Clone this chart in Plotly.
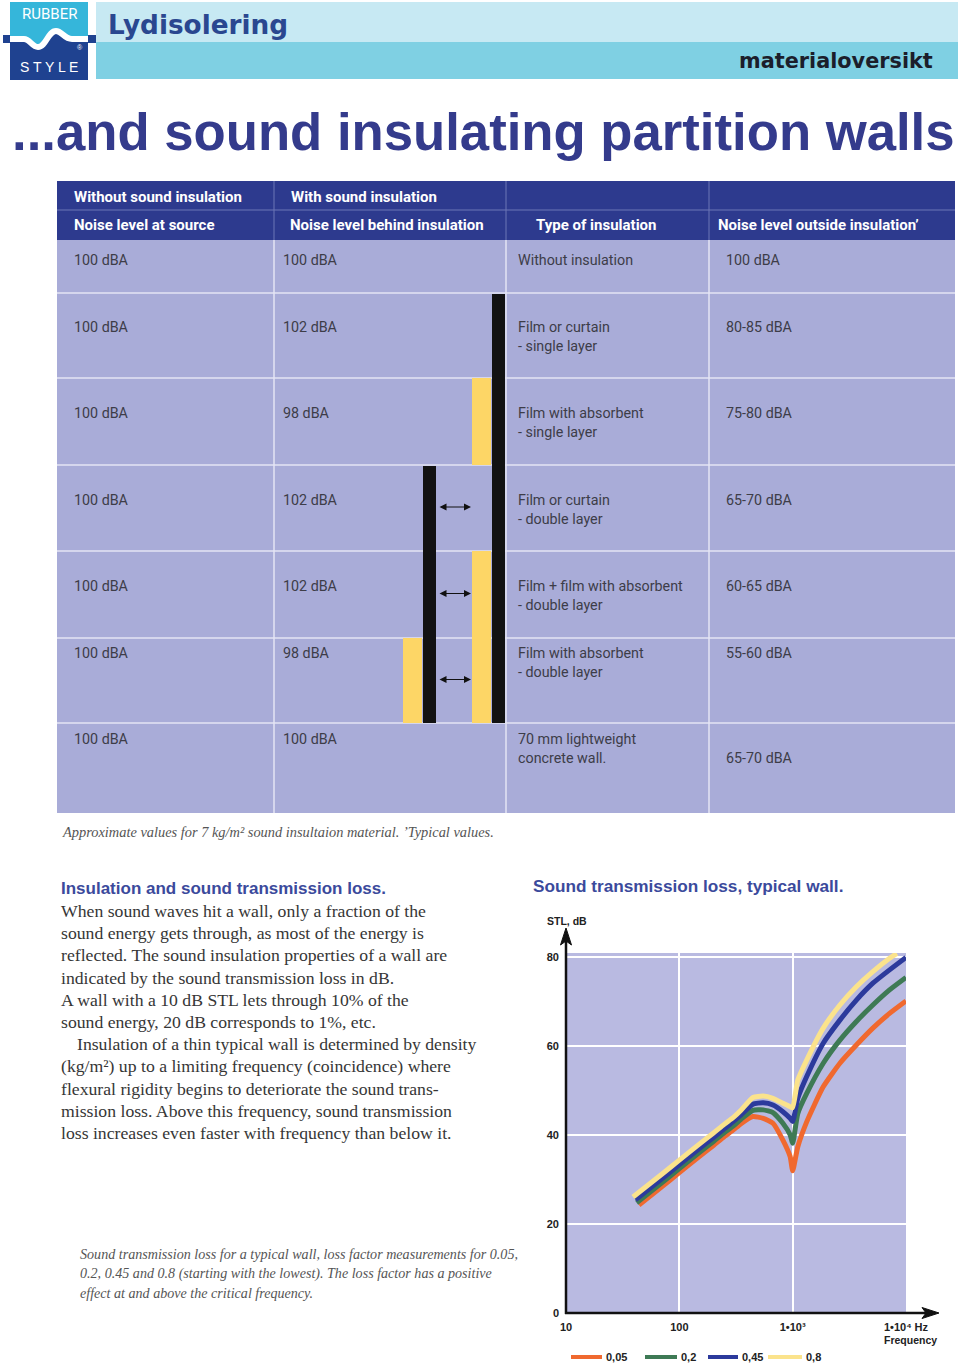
import plotly.graph_objects as go

W, H = 960, 1372

# ---------------- data ----------------
head_row_1 = ["Without sound insulation", "With sound insulation", "", ""]
head_row_2 = ["Noise level at source", "Noise level behind insulation",
              "Type of insulation", "Noise level outside insulation’"]
noise_source = ["100 dBA", "100 dBA", "100 dBA", "100 dBA", "100 dBA", "100 dBA", "100 dBA"]
noise_behind = ["100 dBA", "102 dBA", "98 dBA", "102 dBA", "102 dBA", "98 dBA", "100 dBA"]
insulation_type = ["Without insulation",
                   "Film or curtain<br>- single layer",
                   "Film with absorbent<br>- single layer",
                   "Film or curtain<br>- double layer",
                   "Film + film with absorbent<br>- double layer",
                   "Film with absorbent<br>- double layer",
                   "70 mm lightweight<br>concrete wall."]
noise_outside = ["100 dBA", "80-85 dBA", "75-80 dBA", "65-70 dBA", "60-65 dBA", "55-60 dBA", "65-70 dBA"]

# insulation layers sketched inside the table (row indices are 0-based body rows)
layer_kind = ["film", "absorbent", "absorbent", "film", "absorbent"]
layer_slot = ["outer", "outer", "outer", "inner", "inner"]
layer_first_row = [1, 2, 4, 3, 5]
layer_last_row = [5, 2, 5, 5, 5]
air_gap_rows = [3, 4, 5]

# Sound transmission loss curves (Hz, dB)
loss_factors = ["0,05", "0,2", "0,45", "0,8"]
freq_005 = [44, 70, 100, 150, 200, 250, 300, 350, 446, 550, 670, 820, 950, 1000,
            1110, 1330, 1860, 2610, 3650, 5100, 7160, 10000]
stl_005 = [24.3, 28.4, 31.6, 35.2, 37.7, 39.7, 41.2, 42.6, 44.2, 43.8, 42.7, 38.9, 35.2, 32.0,
           37.4, 43.0, 50.9, 56.2, 60.3, 64.1, 67.4, 70.2]
freq_02 = [42, 70, 100, 150, 200, 250, 300, 350, 446, 550, 670, 820, 950, 1000,
           1110, 1330, 1860, 2610, 3650, 5100, 7160, 10000]
stl_02 = [24.8, 29.3, 32.5, 36.1, 38.6, 40.6, 42.1, 43.6, 45.6, 45.7, 45.1, 42.7, 40.1, 38.2,
          44.9, 49.4, 56.2, 61.4, 65.6, 69.3, 72.7, 75.5]
freq_045 = [41, 70, 100, 150, 200, 250, 300, 350, 446, 550, 670, 820, 950, 1000,
            1110, 1330, 1860, 2610, 3650, 5100, 7160, 10000]
stl_045 = [25.5, 30.2, 33.4, 37.0, 39.5, 41.5, 43.1, 44.6, 47.0, 47.3, 46.8, 45.3, 43.8, 43.1,
           48.3, 53.2, 60.7, 65.9, 70.4, 74.2, 77.2, 80.0]
freq_08 = [39, 70, 100, 150, 200, 250, 300, 350, 446, 550, 670, 820, 950, 1000,
           1110, 1330, 1860, 2610, 3650, 5100, 7160, 8300]
stl_08 = [26.1, 31.2, 34.4, 38.0, 40.5, 42.5, 44.0, 45.6, 48.5, 48.8, 48.3, 47.2, 46.4, 46.2,
          52.4, 56.9, 64.1, 69.3, 73.4, 76.8, 79.8, 80.9]

x_tick_vals = [10, 100, 1000, 10000]
x_tick_text = ["10", "100", "1•10³", "1•10⁴ Hz"]
y_tick_vals = [0, 20, 40, 60, 80]

body_lines = [
    "When sound waves hit a wall, only a fraction of the",
    "sound energy gets through, as most of the energy is",
    "reflected. The sound insulation properties of a wall are",
    "indicated by the sound transmission loss in dB.",
    "A wall with a 10 dB STL lets through 10% of the",
    "sound energy, 20 dB corresponds to 1%, etc.",
    "Insulation of a thin typical wall is determined by density",
    "(kg/m²) up to a limiting frequency (coincidence) where",
    "flexural rigidity begins to deteriorate the sound trans-",
    "mission loss. Above this frequency, sound transmission",
    "loss increases even faster with frequency than below it.",
]
chart_caption_lines = [
    "Sound transmission loss for a typical wall, loss factor measurements for 0.05,",
    "0.2, 0.45 and 0.8 (starting with the lowest). The loss factor has a positive",
    "effect at and above the critical frequency.",
]

# ---------------- styles / layout constants ----------------
NAVY = "#2d3a8e"
LAV_TABLE = "#a9acd8"
LAV_CHART = "#b9bae1"
TITLE_BLUE = "#343b8c"
HEAD_BLUE = "#3b4a9c"
TXT = "#3d3d48"
SERIF = "Liberation Serif, Times New Roman, serif"
SANS = "Liberation Sans, Arial, sans-serif"
TFONT = "Roboto, Liberation Sans, sans-serif"
curve_colors = ["#f0692f", "#3e7a55", "#2c3a9c", "#fbe38c"]

col_edges = [57, 274, 506, 709, 955]
head_edges = [181, 210, 240]
row_edges = [240, 293, 378, 465, 551, 638, 723, 813]
head1_x = [74, 291]
head2_x = [74, 290, 536, 718]
body_x = [74, 283, 518, 726]
row_text_y = [260, 327, 413, 500, 586, 653, 739]
slot_x = {("film", "outer"): (492, 505), ("absorbent", "outer"): (472, 491),
          ("film", "inner"): (423, 436), ("absorbent", "inner"): (403, 422)}
layer_color = {"film": "#121212", "absorbent": "#fdd666"}

shapes = []
ann = []


def rect(x0, y0, x1, y1, fill, layer="below"):
    shapes.append(dict(type="rect", xref="x", yref="y", x0=x0, y0=y0, x1=x1, y1=y1,
                       fillcolor=fill, line=dict(width=0), layer=layer))


def hline(x0, x1, y, color, w):
    shapes.append(dict(type="line", xref="x", yref="y", x0=x0, x1=x1, y0=y, y1=y,
                       line=dict(color=color, width=w), layer="below"))


def vline(x, y0, y1, color, w):
    shapes.append(dict(type="line", xref="x", yref="y", x0=x, x1=x, y0=y0, y1=y1,
                       line=dict(color=color, width=w), layer="below"))


def text(x, y, s, size, color, family=SANS, weight="normal", style="normal",
         xanchor="left", yanchor="middle"):
    if xanchor == "left":
        x -= 2  # compensate the annotation box padding
    ann.append(dict(x=x, y=y, xref="x", yref="y", text=s, showarrow=False,
                    xanchor=xanchor, yanchor=yanchor, align="left",
                    font=dict(size=size, color=color, family=family, weight=weight, style=style)))


# ---------------- header ----------------
rect(96, 2, 958, 42, "#c7e9f3")
rect(96, 42, 958, 79, "#7fd0e3")
rect(10, 2, 88, 80, "#35b6da")
wave = "M10,39 L24,39 C30,39 32,47 38,47 C46,47 48,31 56,31 C62,31 64,39 72,39 L88,39"
shapes.append(dict(type="path", xref="x", yref="y", path=wave + " L88,80 L10,80 Z",
                   fillcolor="#1f4290", line=dict(width=0), layer="below"))
rect(3, 35, 10, 43, "#1f4290")
rect(88, 35, 96, 43, "#1f4290")
shapes.append(dict(type="path", xref="x", yref="y", path=wave,
                   line=dict(color="white", width=6), layer="below"))
text(49, 14, "RUBBER", 15, "white", family="Liberation Sans Narrow, Roboto, sans-serif", xanchor="center")
text(49, 67, "S T Y L E", 14, "white", family=SANS, xanchor="center")
text(80, 47, "®", 7, "white", xanchor="center")
text(108, 25, "Lydisolering", 26.3, "#2a4790", family="DejaVu Sans, sans-serif", weight="bold")
text(935, 61, "materialoversikt", 20.8, "#1b1e2b", family="DejaVu Sans, sans-serif",
     weight="bold", xanchor="right")
text(12, 131, "...and sound insulating partition walls", 52.7, TITLE_BLUE, weight="bold")

# ---------------- table ----------------
rect(col_edges[0], head_edges[0], col_edges[-1], head_edges[-1], NAVY)
rect(col_edges[0], row_edges[0], col_edges[-1], row_edges[-1], LAV_TABLE)
hline(col_edges[0], col_edges[-1], head_edges[1], "#6c76b6", 1)
for xe in col_edges[1:-1]:
    vline(xe, head_edges[0], head_edges[-1], "#6c76b6", 1)
for ye in row_edges[1:-1]:
    hline(col_edges[0], col_edges[-1], ye, "#e4e5f4", 1.5)
for xe in col_edges[1:-1]:
    vline(xe, row_edges[0], row_edges[-1], "#e4e5f4", 1.5)

ymid1 = (head_edges[0] + head_edges[1]) / 2 + 1
ymid2 = (head_edges[1] + head_edges[2]) / 2
for i, s in enumerate(head_row_1):
    if s:
        text(head1_x[i], ymid1, s, 15, "white", family=TFONT, weight="bold")
for i, s in enumerate(head_row_2):
    text(head2_x[i], ymid2, s, 15, "white", family=TFONT, weight="bold")

columns = [noise_source, noise_behind, insulation_type, noise_outside]
for c, col in enumerate(columns):
    for r, s in enumerate(col):
        y = row_text_y[r]
        if c == 3 and r == len(col) - 1:
            y += 19
        text(body_x[c], y - 10.5, s, 14.3, TXT, family=TFONT, yanchor="top")

# insulation layers
for kind, slot, r0, r1 in zip(layer_kind, layer_slot, layer_first_row, layer_last_row):
    x0, x1 = slot_x[(kind, slot)]
    y0 = row_edges[r0] + (1 if kind == "film" else 0)
    y1 = row_edges[r1 + 1]
    rect(x0, y0, x1, y1, layer_color[kind])
inner_right = slot_x[("film", "inner")][1]
outer_left = slot_x[("absorbent", "outer")][0]
for r in air_gap_rows:
    yc = (row_edges[r] + row_edges[r + 1]) / 2 - 1
    ann.append(dict(x=outer_left - 1, y=yc, ax=inner_right + 2, ay=yc, xref="x", yref="y",
                    axref="x", ayref="y", text="", showarrow=True, arrowside="end+start",
                    arrowhead=2, startarrowhead=2, arrowwidth=1, arrowsize=1.4,
                    startarrowsize=1.4, arrowcolor="#111"))

text(62, 832, "Approximate values for 7 kg/m² sound insultaion material. ’Typical values.",
     14.4, "#555", family=SERIF, style="italic")

# ---------------- text block ----------------
text(61, 888, "Insulation and sound transmission loss.", 17, HEAD_BLUE, weight="bold")
for i, s in enumerate(body_lines):
    text(77 if i == 6 else 61, 911 + i * 22.2, s, 17.7, "#363636", family=SERIF)
text(533, 886, "Sound transmission loss, typical wall.", 17.2, HEAD_BLUE, weight="bold")
for i, s in enumerate(chart_caption_lines):
    text(80, 1254 + i * 19.5, s, 14.1, "#555", family=SERIF, style="italic")

# ---------------- chart ----------------
X0, X1, Y0, Y1 = 566, 906, 1313, 953
shapes.append(dict(type="rect", xref="x2 domain", yref="y2 domain", x0=0, x1=1, y0=0, y1=1,
                   fillcolor=LAV_CHART, line=dict(width=0), layer="below"))

fig = go.Figure()
series = [(freq_005, stl_005), (freq_02, stl_02), (freq_045, stl_045), (freq_08, stl_08)]
for (fx, fy), col, name in zip(series, curve_colors, loss_factors):
    fig.add_trace(go.Scatter(x=fx, y=fy, mode="lines", name=name, xaxis="x2", yaxis="y2",
                             line=dict(color=col, width=5, shape="spline", smoothing=0.5),
                             showlegend=False, hoverinfo="skip"))

# axis lines with arrow heads
shapes.append(dict(type="line", xref="x", yref="y", x0=X0, x1=X0, y0=Y0 + 1, y1=940,
                   line=dict(color="#111", width=2.5), layer="above"))
shapes.append(dict(type="line", xref="x", yref="y", x0=X0 - 1, x1=926, y0=Y0, y1=Y0,
                   line=dict(color="#111", width=2.5), layer="above"))
shapes.append(dict(type="path", xref="x", yref="y", path="M566,928 L560.5,945 L566,941 L571.5,945 Z",
                   fillcolor="#111", line=dict(color="#111", width=1), layer="above"))
shapes.append(dict(type="path", xref="x", yref="y", path="M939,1313 L922,1307.5 L926,1313 L922,1318.5 Z",
                   fillcolor="#111", line=dict(color="#111", width=1), layer="above"))
text(567, 921, "STL, dB", 10.5, "#222", weight="bold", xanchor="center")
text(910, 1340, "Frequency", 10.5, "#222", weight="bold", xanchor="center")

# legend
leg_x = [571, 645, 708, 768]
leg_len = [31, 32, 30, 34]
for name, col, lx, ll in zip(loss_factors, curve_colors, leg_x, leg_len):
    shapes.append(dict(type="line", xref="x", yref="y", x0=lx, x1=lx + ll, y0=1357, y1=1357,
                       line=dict(color=col, width=4), layer="above"))
    text(lx + ll + 4, 1357, name, 11, "#222", weight="bold")

fig.update_layout(
    width=W, height=H, margin=dict(l=0, r=0, t=0, b=0, autoexpand=False),
    paper_bgcolor="white", plot_bgcolor="rgba(0,0,0,0)",
    showlegend=False,
    xaxis=dict(domain=[0, 1], range=[0, W], visible=False, fixedrange=True),
    yaxis=dict(domain=[0, 1], range=[H, 0], visible=False, fixedrange=True),
    xaxis2=dict(domain=[X0 / W, X1 / W], anchor="y2", type="log", range=[1, 4],
                tickvals=x_tick_vals, ticktext=x_tick_text, showgrid=True,
                gridcolor="white", gridwidth=1.5, zeroline=False, showline=False,
                ticks="", ticklabelstandoff=6, automargin=False,
                tickfont=dict(size=11, color="#222", family=SANS, weight="bold")),
    yaxis2=dict(domain=[1 - Y0 / H, 1 - Y1 / H], anchor="x2", range=[0, 81],
                tickvals=y_tick_vals, showgrid=True, gridcolor="white", gridwidth=1.5,
                zeroline=False, showline=False, ticks="", ticklabelstandoff=6, automargin=False,
                tickfont=dict(size=11, color="#222", family=SANS, weight="bold")),
    shapes=shapes, annotations=ann,
)

fig.write_html("out.html", config={"displayModeBar": False},
               post_script="document.body.style.margin='0';document.body.style.overflow='hidden';")
